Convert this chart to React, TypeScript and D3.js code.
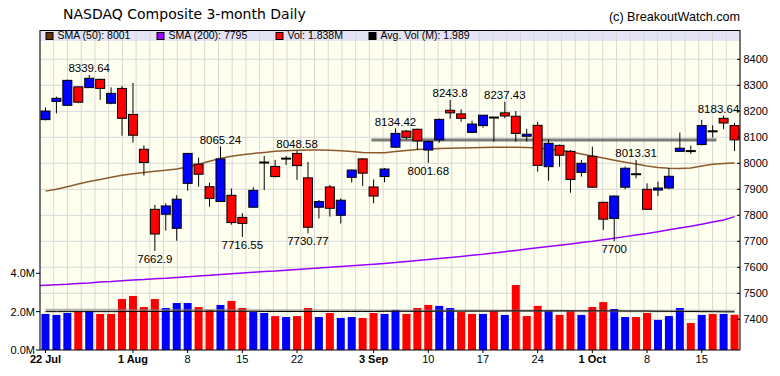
import React from 'react';
import * as d3 from 'd3';

// ---------- DATA ----------
const dates = [
  '2019-07-22','2019-07-23','2019-07-24','2019-07-25','2019-07-26','2019-07-29','2019-07-30','2019-07-31',
  '2019-08-01','2019-08-02','2019-08-05','2019-08-06','2019-08-07','2019-08-08','2019-08-09','2019-08-12',
  '2019-08-13','2019-08-14','2019-08-15','2019-08-16','2019-08-19','2019-08-20','2019-08-21','2019-08-22',
  '2019-08-23','2019-08-26','2019-08-27','2019-08-28','2019-08-29','2019-08-30','2019-09-03','2019-09-04',
  '2019-09-05','2019-09-06','2019-09-09','2019-09-10','2019-09-11','2019-09-12','2019-09-13','2019-09-16',
  '2019-09-17','2019-09-18','2019-09-19','2019-09-20','2019-09-23','2019-09-24','2019-09-25','2019-09-26',
  '2019-09-27','2019-09-30','2019-10-01','2019-10-02','2019-10-03','2019-10-04','2019-10-07','2019-10-08',
  '2019-10-09','2019-10-10','2019-10-11','2019-10-14','2019-10-15','2019-10-16','2019-10-17','2019-10-18',
];
const open = [
  8168, 8238, 8223, 8294, 8291, 8323, 8231, 8288, 8188, 8054, 7823, 7804, 7750, 7923, 7997, 7910,
  7853, 7877, 7792, 7831, 8003, 7988, 8018, 8038, 7944, 7831, 7909, 7800, 7946, 8017, 7909, 7949,
  8062, 8124, 8131, 8051, 8090, 8204, 8190, 8119, 8145, 8176, 8194, 8181, 8104, 8146, 7987, 8069,
  8046, 7965, 8027, 7850, 7788, 7908, 7958, 7900, 7897, 7905, 8046, 8047, 8072, 8123, 8173, 8145,
];
const high = [
  8215, 8256, 8322, 8296, 8339.64, 8325, 8292, 8297, 8309, 8069, 7840, 7846, 7877, 8040, 8022, 7926,
  8065.24, 7903, 7808, 7908, 8028, 8013, 8028, 8048.58, 8005, 7859, 7917, 7865, 7976, 8020, 7938, 7982,
  8134.42, 8128, 8133, 8088, 8172, 8243.8, 8208, 8164, 8186, 8178, 8237.43, 8201, 8133, 8159, 8092, 8072,
  8051, 8013, 8064, 7852, 7876, 7987, 8013.31, 7923, 7929, 7981, 8118, 8068, 8167, 8146, 8183.64, 8156,
];
const low = [
  8165, 8192, 8223, 8231, 8291, 8244, 8227, 8106, 8079, 7953, 7662.9, 7741, 7702, 7895, 7910, 7833,
  7853, 7764, 7716.55, 7831, 7897, 7945, 7994, 7936, 7730.77, 7788, 7795, 7769, 7926, 7913, 7846, 7927,
  8060, 8092, 8051, 8001.68, 8079, 8171, 8160, 8119, 8137, 8083, 8173, 8083, 8083, 7968, 7933, 7987,
  7887, 7949, 7906, 7744, 7700, 7900, 7942, 7822, 7874, 7900, 8044, 8036, 8069, 8099, 8131, 8047,
];
const close = [
  8201, 8250, 8319, 8235, 8327, 8288, 8269, 8173, 8108, 8003, 7728, 7836, 7862, 8038, 7958, 7865,
  8017, 7772, 7769, 7896, 8003, 7949, 8018, 7991, 7754, 7853, 7827, 7858, 7974, 7962, 7874, 7978,
  8115, 8100, 8086, 8084, 8169, 8194, 8173, 8151, 8185, 8176, 8182, 8115, 8112, 7992, 8077, 8031,
  7938, 8000, 7908, 7785, 7874, 7981, 7958, 7823, 7905, 7950, 8058, 8047, 8145, 8123, 8155, 8090,
];
const priorClose = 8146;
// volume in millions
const volume = [
  1.88, 1.83, 1.93, 2.02, 2.02, 1.88, 1.88, 2.66, 2.82, 2.24, 2.66, 2.19, 2.45, 2.45, 2.24, 2.09,
  2.35, 2.56, 2.19, 1.98, 1.93, 1.77, 1.72, 1.77, 2.19, 1.72, 1.93, 1.67, 1.72, 1.67, 1.93, 1.88,
  2.09, 1.88, 2.19, 2.35, 2.30, 2.19, 1.98, 1.88, 1.88, 2.04, 1.83, 3.39, 1.77, 2.30, 2.04, 1.83,
  2.04, 1.83, 2.24, 2.50, 2.14, 1.72, 1.72, 1.93, 1.57, 1.77, 2.19, 1.41, 1.83, 1.88, 1.88, 1.838,
];
const sma50 = [
  7893, 7900, 7910, 7920, 7930, 7938, 7946, 7954, 7960, 7965, 7969, 7973, 7978, 7986, 7996, 8008,
  8019, 8027, 8033, 8038, 8042, 8046, 8048, 8050, 8051, 8051, 8050, 8048, 8045, 8042, 8041, 8041,
  8045, 8049, 8053, 8055, 8057, 8058, 8059, 8060, 8061, 8062, 8062, 8062, 8061, 8059, 8055, 8050,
  8044, 8036, 8028, 8020, 8012, 8004, 7997, 7990, 7984, 7981, 7980, 7982, 7990, 7996, 7999, 8001,
];
const sma200 = [
  7530, 7533, 7535, 7538, 7540, 7543, 7545, 7548, 7551, 7553, 7556, 7558, 7561, 7564, 7567, 7569,
  7572, 7575, 7578, 7581, 7584, 7586, 7589, 7592, 7594, 7597, 7600, 7603, 7606, 7609, 7612, 7615,
  7618, 7622, 7626, 7630, 7634, 7638, 7642, 7646, 7650, 7655, 7660, 7665, 7670, 7675, 7680, 7685,
  7690, 7695, 7700, 7706, 7712, 7718, 7724, 7730, 7737, 7744, 7751, 7758, 7766, 7774, 7782, 7795,
];
const avgVol = [
  2.00, 2.00, 2.00, 2.00, 2.00, 2.00, 2.00, 2.00, 2.01, 2.01, 2.01, 2.01, 2.02, 2.02, 2.02, 2.02,
  2.02, 2.02, 2.02, 2.02, 2.01, 2.01, 2.01, 2.01, 2.01, 2.01, 2.01, 2.01, 2.01, 2.01, 2.01, 2.02,
  2.02, 2.02, 2.02, 2.02, 2.03, 2.03, 2.03, 2.03, 2.03, 2.03, 2.04, 2.04, 2.04, 2.04, 2.04, 2.04,
  2.04, 2.04, 2.04, 2.04, 2.04, 2.03, 2.03, 2.03, 2.02, 2.02, 2.01, 2.01, 2.00, 2.00, 1.99, 1.989,
];
const avgVolLong = [
  2.08, 2.08, 2.08, 2.08, 2.08, 2.08, 2.08, 2.08, 2.07, 2.07, 2.07, 2.07, 2.07, 2.07, 2.07, 2.07,
  2.07, 2.07, 2.06, 2.06, 2.06, 2.06, 2.06, 2.06, 2.06, 2.06, 2.06, 2.06, 2.06, 2.06, 2.05, 2.05,
  2.05, 2.05, 2.05, 2.05, 2.05, 2.05, 2.05, 2.05, 2.05, 2.05, 2.05, 2.05, 2.05, 2.05, 2.05, 2.05,
  2.04, 2.04, 2.04, 2.04, 2.04, 2.04, 2.04, 2.04, 2.04, 2.03, 2.03, 2.03, 2.03, 2.03, 2.03, 2.03,
];
const priceTicks = [7400, 7500, 7600, 7700, 7800, 7900, 8000, 8100, 8200, 8300, 8400];
const volTicks = [0, 2, 4];
const xTickDates = ['2019-07-22','2019-08-01','2019-08-08','2019-08-15','2019-08-22','2019-09-03','2019-09-10','2019-09-17','2019-09-24','2019-10-01','2019-10-08','2019-10-15'];
const xTickLabels = ['22 Jul','1 Aug','8','15','22','3 Sep','10','17','24','1 Oct','8','15'];
const xTickBold = [true, true, false, false, false, true, false, false, false, true, false, false];
const highLabelIdx = [4, 16, 23, 32, 37, 42, 54, 62];
const lowLabelIdx = [10, 18, 24, 35, 52];
const resistanceLevel = 8090;
const resistanceFrom = '2019-09-03';
const resistanceTo = '2019-10-16';
const legendItems = [
  { label: 'SMA (50): 8001', color: '#663300' },
  { label: 'SMA (200): 7795', color: '#9900ff' },
  { label: 'Vol: 1.838M', color: '#ff0000' },
  { label: 'Avg. Vol (M): 1.989', color: '#000000' },
];
const legendOffsets = [46, 157, 276, 369];

// ---------- CHART ----------
const W = 780, H = 376;
const L = 40, R = 740, T = 30.5, B = 350;
const RED = '#ff0000', BLUE = '#0000ff';
const FONT = 'Liberation Sans, Arial, sans-serif';

export default function App() {
  const x = d3.scaleBand<string>().domain(dates).range([L, R]).padding(0);
  const bw = x.bandwidth();
  const cx = (d: string) => (x(d) as number) + bw / 2;
  const y = d3.scaleLinear().domain([7400, 8400]).range([319.3, 59.3]);
  const yv = d3.scaleLinear().domain([0, 4]).range([B, 273.3]);

  const smaLine = d3.line<number>().x((_, i) => cx(dates[i])).y((v) => y(v));
  const volLine = d3.line<number>().x((_, i) => cx(dates[i])).y((v) => yv(v));
  const smaLine200 = d3.line<number>().x((_, i) => (i === 0 ? L : cx(dates[i]))).y((v) => y(v));

  const vGrid = d3.range(52).map((k) => L + (k * (R - L)) / 51);
  const bodyW = 9;
  const volW = 8;

  const rx0 = (x(resistanceFrom) as number) + bw * 0.3;
  const rx1 = (x(resistanceTo) as number) + bw * 0.85;

  return (
    <svg width={W} height={H} style={{ position: 'absolute', left: 0, top: 0, background: '#fff' }}>
      {/* Title */}
      <text x={63} y={19} fontFamily="DejaVu Sans, sans-serif" fontSize={14} fill="#000">
        NASDAQ Composite 3-month Daily
      </text>
      <text x={740} y={21} textAnchor="end" fontFamily={FONT} fontSize={12.6} fill="#000">
        (c) BreakoutWatch.com
      </text>

      {/* Plot background */}
      <rect x={L} y={T} width={R - L} height={B - T} fill="#fffff0" />
      {/* legend band */}
      <rect x={L} y={T} width={R - L} height={10.5} fill="#e4e4f6" />

      {/* grid */}
      {vGrid.map((gx, k) => (
        <line key={'vg' + k} x1={gx} x2={gx} y1={T} y2={B} stroke="#d8d8d8" strokeWidth={1} />
      ))}
      {priceTicks.map((p) => (
        <line key={'hg' + p} x1={L} x2={R} y1={y(p)} y2={y(p)} stroke="#d8d8d8" strokeWidth={1} />
      ))}

      {/* volume bars */}
      {volume.map((v, i) => {
        const prev = i === 0 ? priorClose : close[i - 1];
        const col = close[i] >= prev ? BLUE : RED;
        return (
          <rect key={'v' + i} x={cx(dates[i]) - volW / 2} y={yv(v)} width={volW} height={B - yv(v)} fill={col} />
        );
      })}
      {/* volume average lines */}
      <path d={volLine(avgVolLong) || ''} fill="none" stroke="#808080" strokeOpacity={0.6} strokeWidth={2.5} />
      <path d={volLine(avgVol) || ''} fill="none" stroke="#000" strokeWidth={1} />

      {/* SMA lines */}
      <path d={smaLine200(sma200) || ''} fill="none" stroke="#9900ff" strokeWidth={1.5} />
      <path d={smaLine(sma50) || ''} fill="none" stroke="#8b5a2b" strokeWidth={1.5} />

      {/* resistance */}
      <line x1={rx0} x2={rx1} y1={y(resistanceLevel)} y2={y(resistanceLevel)} stroke="#444" strokeOpacity={0.7} strokeWidth={3} />

      {/* candles */}
      {dates.map((d, i) => {
        const c = cx(d);
        const o = open[i], cl = close[i];
        const wick = <line x1={c} x2={c} y1={y(high[i])} y2={y(low[i])} stroke="#000" strokeWidth={1} />;
        if (Math.abs(o - cl) < 0.5) {
          return (
            <g key={'c' + i}>
              {wick}
              <line x1={c - bodyW / 2 - 0.5} x2={c + bodyW / 2 + 0.5} y1={y(o)} y2={y(o)} stroke="#000" strokeWidth={2} />
            </g>
          );
        }
        const top = y(Math.max(o, cl));
        const bot = y(Math.min(o, cl));
        return (
          <g key={'c' + i}>
            {wick}
            <rect x={c - bodyW / 2} y={top} width={bodyW} height={Math.max(bot - top, 1)} fill={cl > o ? BLUE : RED} stroke="#000" strokeWidth={1} />
          </g>
        );
      })}

      {/* high/low labels */}
      {highLabelIdx.map((i) => {
        const c = Math.min(cx(dates[i]), 741 - 22.5);
        return (
          <text key={'hl' + i} x={c} y={y(high[i]) - 2.5} textAnchor="middle" fontFamily={FONT} fontSize={11.5} fill="#000">
            {String(high[i])}
          </text>
        );
      })}
      {lowLabelIdx.map((i) => (
        <text key={'ll' + i} x={cx(dates[i])} y={y(low[i]) + 12} textAnchor="middle" fontFamily={FONT} fontSize={11.5} fill="#000">
          {String(low[i])}
        </text>
      ))}

      {/* legend */}
      {legendItems.map((it, k) => (
        <g key={'lg' + k}>
          <rect x={legendOffsets[k]} y={32.5} width={7} height={7} fill={it.color} stroke="#000" strokeWidth={1} />
          <text x={legendOffsets[k] + 11.5} y={39.3} fontFamily={FONT} fontSize={10.5} fill="#000">
            {it.label}
          </text>
        </g>
      ))}

      {/* frame */}
      <rect x={L} y={T} width={R - L} height={B - T} fill="none" stroke="#000" strokeWidth={1} />

      {/* right axis */}
      {priceTicks.map((p) => (
        <g key={'pt' + p}>
          <line x1={R - 3} x2={R} y1={y(p)} y2={y(p)} stroke="#000" />
          <text x={743.5} y={y(p) + 4} fontFamily={FONT} fontSize={11} fill="#000">
            {p}
          </text>
        </g>
      ))}

      {/* left volume axis */}
      {volTicks.map((v) => (
        <g key={'vt' + v}>
          <line x1={L - 4} x2={L} y1={yv(v)} y2={yv(v)} stroke="#000" />
          <text x={35} y={yv(v) + 4} textAnchor="end" fontFamily={FONT} fontSize={11} fill="#000">
            {v.toFixed(1) + 'M'}
          </text>
        </g>
      ))}

      {/* x axis */}
      {xTickDates.map((d, k) => (
        <g key={'xt' + k}>
          <line x1={cx(d)} x2={cx(d)} y1={B} y2={B + 3} stroke="#000" />
          <text x={cx(d)} y={363} textAnchor="middle" fontFamily={FONT} fontSize={11} fontWeight={xTickBold[k] ? 'bold' : 'normal'} fill="#000">
            {xTickLabels[k]}
          </text>
        </g>
      ))}
    </svg>
  );
}
